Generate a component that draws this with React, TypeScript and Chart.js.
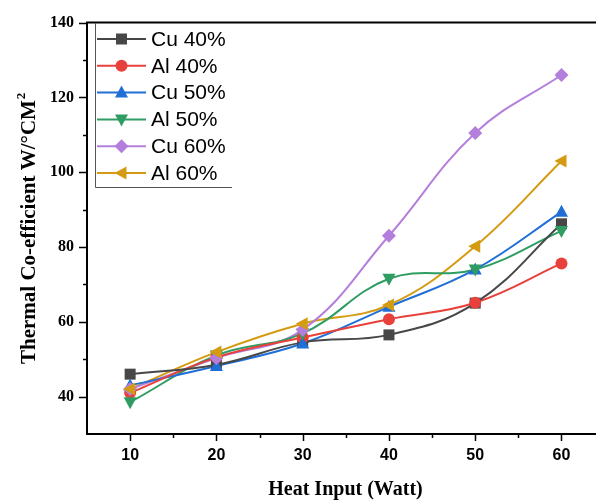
import React, { useEffect, useRef } from "react";
import { Chart, registerables } from "chart.js";

Chart.register(...registerables);

const heatInput = [10, 20, 30, 40, 50, 60];
const cu40 = [46, 48.5, 54.5, 56.5, 65, 86.2];
const al40 = [41, 50.5, 55.8, 60.7, 65.1, 75.6];
const cu50 = [43, 48.2, 54.2, 64, 74, 89.4];
const al50 = [38.5, 51, 56.9, 71.5, 74, 84.3];
const cu60 = [42, 50.3, 57.9, 83, 110.5, 126];
const al60 = [42, 51.9, 59.5, 64.5, 80.2, 103];

const seriesNames = ["Cu 40%", "Al 40%", "Cu 50%", "Al 50%", "Cu 60%", "Al 60%"];
const seriesValues = [cu40, al40, cu50, al50, cu60, al60];
const seriesColors = ["#474747", "#e8413c", "#1f6fd6", "#2f9d63", "#b47fdc", "#d49b12"];
const seriesMarkers = ["square", "circle", "triUp", "triDown", "diamond", "triLeft"];

const xMajorTicks = [10, 20, 30, 40, 50, 60];
const xMinorTicks = [15, 25, 35, 45, 55];
const yMajorTicks = [40, 60, 80, 100, 120, 140];
const yMinorTicks = [50, 70, 90, 110, 130];

const xTitle = "Heat Input (Watt)";
const yTitleMain = "Thermal Co-efficient W/°CM";
const yTitleSup = "2";

function drawMarker(ctx: CanvasRenderingContext2D, kind: string, x: number, y: number, color: string) {
  ctx.save();
  ctx.fillStyle = color;
  ctx.beginPath();
  if (kind === "square") {
    ctx.rect(x - 5.5, y - 5.5, 11, 11);
  } else if (kind === "circle") {
    ctx.arc(x, y, 6, 0, Math.PI * 2);
  } else if (kind === "triUp") {
    ctx.moveTo(x, y - 7);
    ctx.lineTo(x + 6.5, y + 5);
    ctx.lineTo(x - 6.5, y + 5);
  } else if (kind === "triDown") {
    ctx.moveTo(x, y + 7);
    ctx.lineTo(x + 6.5, y - 5);
    ctx.lineTo(x - 6.5, y - 5);
  } else if (kind === "diamond") {
    ctx.moveTo(x, y - 7);
    ctx.lineTo(x + 7, y);
    ctx.lineTo(x, y + 7);
    ctx.lineTo(x - 7, y);
  } else if (kind === "triLeft") {
    ctx.moveTo(x - 7, y);
    ctx.lineTo(x + 5, y - 6.5);
    ctx.lineTo(x + 5, y + 6.5);
  }
  ctx.closePath();
  ctx.fill();
  ctx.restore();
}

const decorPlugin = {
  id: "decor",
  afterDraw(chart: any) {
    const ctx: CanvasRenderingContext2D = chart.ctx;
    const xs = chart.scales.x;
    const ys = chart.scales.y;
    const area = chart.chartArea;
    ctx.save();
    // top frame line
    ctx.strokeStyle = "#000";
    ctx.lineWidth = 2;
    ctx.beginPath();
    ctx.moveTo(area.left - 1, area.top);
    ctx.lineTo(area.right, area.top);
    ctx.stroke();
    // tick marks
    ctx.lineWidth = 1.5;
    ctx.beginPath();
    xMajorTicks.forEach((v) => {
      const px = Math.round(xs.getPixelForValue(v)) + 0.5;
      ctx.moveTo(px, area.bottom);
      ctx.lineTo(px, area.bottom + 7);
    });
    xMinorTicks.forEach((v) => {
      const px = Math.round(xs.getPixelForValue(v)) + 0.5;
      ctx.moveTo(px, area.bottom);
      ctx.lineTo(px, area.bottom + 4);
    });
    yMajorTicks.forEach((v) => {
      const py = Math.round(ys.getPixelForValue(v)) + 0.5;
      ctx.moveTo(area.left, py);
      ctx.lineTo(area.left - 8, py);
    });
    yMinorTicks.forEach((v) => {
      const py = Math.round(ys.getPixelForValue(v)) + 0.5;
      ctx.moveTo(area.left, py);
      ctx.lineTo(area.left - 4, py);
    });
    ctx.stroke();

    // axis titles
    ctx.fillStyle = "#000";
    const serifBold = "'Liberation Serif', 'Times New Roman', serif";
    ctx.font = `bold 20px ${serifBold}`;
    ctx.textAlign = "center";
    ctx.textBaseline = "middle";
    ctx.fillText(xTitle, (area.left + area.right) / 2 + 4, 490);
    ctx.save();
    ctx.translate(28, (area.top + area.bottom) / 2);
    ctx.rotate(-Math.PI / 2);
    ctx.font = `bold 21px ${serifBold}`;
    const mainW = ctx.measureText(yTitleMain).width;
    ctx.font = `bold 13px ${serifBold}`;
    const supW = ctx.measureText(yTitleSup).width;
    const total = mainW + supW + 1;
    ctx.textAlign = "left";
    ctx.textBaseline = "alphabetic";
    ctx.font = `bold 21px ${serifBold}`;
    ctx.fillText(yTitleMain, -total / 2, 7);
    ctx.font = `bold 13px ${serifBold}`;
    ctx.fillText(yTitleSup, -total / 2 + mainW + 1, -3);
    ctx.restore();

    // legend
    const lx = 95;
    const ly = 23;
    const lb = 187;
    const lr = 232;
    ctx.strokeStyle = "#555";
    ctx.lineWidth = 1;
    ctx.beginPath();
    ctx.moveTo(lx + 0.5, ly);
    ctx.lineTo(lx + 0.5, lb + 0.5);
    ctx.lineTo(lr, lb + 0.5);
    ctx.stroke();
    ctx.font = "21px 'Liberation Sans', Arial, sans-serif";
    ctx.textAlign = "left";
    ctx.textBaseline = "middle";
    seriesNames.forEach((name, i) => {
      const cy = 39 + i * 26.8;
      ctx.strokeStyle = seriesColors[i];
      ctx.lineWidth = 2;
      ctx.beginPath();
      ctx.moveTo(97, cy);
      ctx.lineTo(146, cy);
      ctx.stroke();
      drawMarker(ctx, seriesMarkers[i], 121.5, cy, seriesColors[i]);
      ctx.fillStyle = "#000";
      ctx.fillText(name, 151, cy + 1);
    });

    // data markers
    chart.data.datasets.forEach((ds: any, i: number) => {
      ds.data.forEach((pt: any) => {
        drawMarker(ctx, seriesMarkers[i], xs.getPixelForValue(pt.x), ys.getPixelForValue(pt.y), seriesColors[i]);
      });
    });
    ctx.restore();
  },
};

export default function App() {
  const ref = useRef<HTMLCanvasElement | null>(null);
  useEffect(() => {
    if (!ref.current) return;
    const datasets = seriesNames.map((name, i) => ({
      label: name,
      data: heatInput.map((x, j) => ({ x, y: seriesValues[i][j] })),
      borderColor: seriesColors[i],
      backgroundColor: seriesColors[i],
      borderWidth: 2,
      pointRadius: 0,
      tension: 0.4,
      fill: false,
    }));
    const chart = new Chart(ref.current, {
      type: "line",
      data: { datasets },
      options: {
        animation: false,
        responsive: false,
        events: [],
        layout: { padding: { top: 16, right: 0, left: 0, bottom: 0 } },
        plugins: { legend: { display: false }, tooltip: { enabled: false } },
        scales: {
          x: {
            type: "linear",
            min: 5,
            max: 64,
            grid: { display: false, drawTicks: false },
            border: { display: true, color: "#000", width: 2 },
            afterBuildTicks: (s: any) => {
              s.ticks = xMajorTicks.map((v) => ({ value: v }));
            },
            afterFit: (s: any) => {
              s.height = 69;
            },
            ticks: {
              padding: 12,
              color: "#000",
              maxRotation: 0,
              font: { family: "'Liberation Sans', Arial, sans-serif", size: 16, weight: "bold" },
            },
          },
          y: {
            type: "linear",
            min: 30,
            max: 140,
            grid: { display: false, drawTicks: false },
            border: { display: true, color: "#000", width: 2 },
            afterBuildTicks: (s: any) => {
              s.ticks = yMajorTicks.map((v) => ({ value: v }));
            },
            afterFit: (s: any) => {
              s.width = 87;
            },
            ticks: {
              padding: 13,
              color: "#000",
              font: { family: "'Liberation Serif', 'Times New Roman', serif", size: 16, weight: "bold" },
            },
          },
        },
      },
      plugins: [decorPlugin],
    } as any);
    return () => chart.destroy();
  }, []);
  return (
    <div style={{ position: "absolute", left: 0, top: 0, width: 596, height: 503, background: "#fff" }}>
      <canvas ref={ref} width={596} height={503} style={{ display: "block" }} />
    </div>
  );
}
